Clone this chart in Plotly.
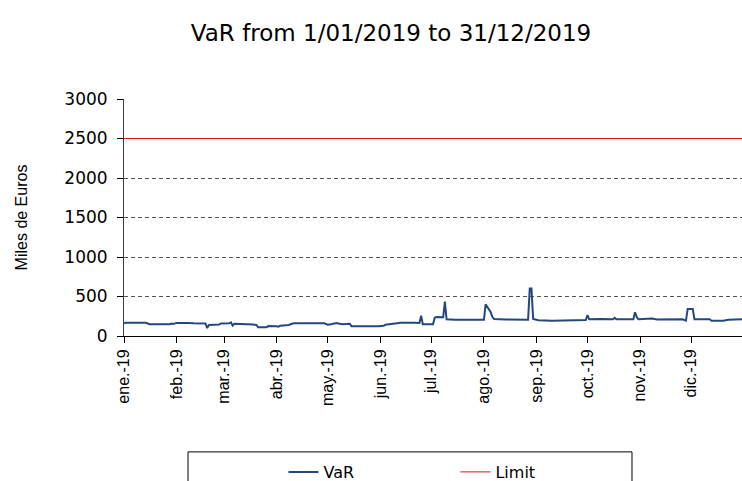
import plotly.graph_objects as go

# ---- data ----
var_dates = [
    "2019-01-01", "2019-01-02", "2019-01-14", "2019-01-16", "2019-01-28", "2019-01-29", "2019-01-30",
    "2019-02-01", "2019-02-08", "2019-02-11", "2019-02-18", "2019-02-19", "2019-02-20", "2019-02-26",
    "2019-02-27", "2019-03-04", "2019-03-05", "2019-03-06", "2019-03-07", "2019-03-15", "2019-03-18",
    "2019-03-20", "2019-03-21", "2019-03-26", "2019-03-27", "2019-04-01", "2019-04-02", "2019-04-03",
    "2019-04-08", "2019-04-10", "2019-04-11", "2019-04-29", "2019-05-01", "2019-05-03", "2019-05-06",
    "2019-05-08", "2019-05-10", "2019-05-14", "2019-05-15", "2019-05-31", "2019-06-03", "2019-06-04",
    "2019-06-07", "2019-06-11", "2019-06-13", "2019-06-21", "2019-06-24", "2019-06-25", "2019-06-26",
    "2019-07-02", "2019-07-03", "2019-07-04", "2019-07-08", "2019-07-09", "2019-07-10", "2019-07-15",
    "2019-07-22", "2019-07-26", "2019-08-01", "2019-08-02", "2019-08-05", "2019-08-06", "2019-08-07",
    "2019-08-14", "2019-08-21", "2019-08-27", "2019-08-28", "2019-08-29", "2019-08-30", "2019-09-02",
    "2019-09-10", "2019-09-18", "2019-09-27", "2019-09-30", "2019-10-01", "2019-10-02", "2019-10-09",
    "2019-10-16", "2019-10-17", "2019-10-18", "2019-10-28", "2019-10-29", "2019-10-30", "2019-10-31",
    "2019-11-08", "2019-11-11", "2019-11-26", "2019-11-27", "2019-11-28", "2019-11-29", "2019-12-02",
    "2019-12-03", "2019-12-12", "2019-12-13", "2019-12-20", "2019-12-23", "2019-12-27", "2019-12-31",
]
var_values = [
    160, 168, 168, 150, 150, 158, 152,
    166, 166, 160, 158, 100, 140, 145,
    158, 160, 173, 132, 155, 152, 145,
    140, 110, 112, 126, 122, 118, 130,
    139, 155, 160, 160, 143, 150, 165,
    155, 150, 155, 122, 122, 130, 143,
    150, 160, 168, 168, 165, 257, 150,
    150, 232, 240, 238, 434, 211, 205,
    208, 203, 205, 401, 300, 240, 215,
    208, 205, 205, 600, 600, 215, 200,
    194, 196, 194, 203, 266, 211, 215,
    213, 230, 211, 211, 300, 240, 211,
    220, 208, 211, 200, 195, 342, 342,
    211, 211, 194, 194, 205, 211, 211,
]
limit_dates = ["2019-01-01", "2019-12-31"]
limit_values = [2500, 2500]

month_ticks = ["2019-01-01", "2019-02-01", "2019-03-01", "2019-04-01", "2019-05-01", "2019-06-01",
               "2019-07-01", "2019-08-01", "2019-09-01", "2019-10-01", "2019-11-01", "2019-12-01"]
month_labels = ["ene.-19", "feb.-19", "mar.-19", "abr.-19", "may.-19", "jun.-19",
                "jul.-19", "ago.-19", "sep.-19", "oct.-19", "nov.-19", "dic.-19"]

ARIAL = "Liberation Sans, Arial, sans-serif"
WIDE = "DejaVu Sans, Verdana, sans-serif"

fig = go.Figure()
fig.add_trace(go.Scatter(x=var_dates, y=var_values, mode="lines", name="VaR",
                         line=dict(color="#24477F", width=2)))
fig.add_trace(go.Scatter(x=limit_dates, y=limit_values, mode="lines", name="Limit",
                         line=dict(color="#E01010", width=1)))

fig.update_layout(
    width=742, height=481,
    margin=dict(l=124, r=0, t=99, b=145, autoexpand=False),
    paper_bgcolor="white", plot_bgcolor="white",
    font=dict(family=ARIAL, color="black"),
    title=dict(text="VaR from 1/01/2019 to 31/12/2019", x=0.527, xanchor="center",
               y=1 - 33 / 481, yanchor="middle", font=dict(size=23, family=WIDE, color="black")),
    showlegend=True,
    legend=dict(orientation="h", x=0.258, xanchor="left", yref="container",
                y=(481 - 455) / 481, yanchor="top",
                bgcolor="rgba(0,0,0,0)", borderwidth=0, font=dict(size=16, family=WIDE),
                entrywidth=127, entrywidthmode="pixels"),
    shapes=[dict(type="rect", xref="paper", yref="paper", x0=0.1036, x1=0.822, y0=-0.489, y1=-0.70,
                 line=dict(color="black", width=1), fillcolor="rgba(0,0,0,0)", layer="above")],
)

fig.update_xaxes(
    type="date", range=["2019-01-01", "2019-12-31"],
    tickvals=month_ticks, ticktext=month_labels, tickangle=-90,
    ticks="outside", ticklen=6, tickcolor="black", tickfont=dict(size=16, family=ARIAL),
    showline=True, linecolor="black", linewidth=1, showgrid=False, zeroline=False,
)
fig.update_yaxes(
    range=[0, 3000], dtick=500, tick0=0,
    ticks="outside", ticklen=6, tickcolor="black", tickfont=dict(size=17, family=WIDE),
    ticklabelstandoff=6,
    showline=True, linecolor="#404040", linewidth=1,
    showgrid=True, gridcolor="#555555", gridwidth=1, griddash="4px,3px",
    zeroline=False,
    title=dict(text="Miles de Euros", font=dict(size=16, family=ARIAL), standoff=32),
)

fig.write_html("out.html", config={"displayModeBar": False},
               post_script="document.body.style.margin='0';")
